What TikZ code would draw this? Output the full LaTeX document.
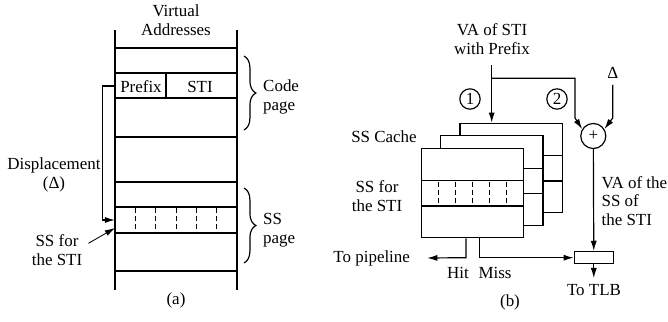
\documentclass[tikz,border=0pt]{standalone}
\usepackage{fontspec}
\setmainfont{Liberation Serif}
\usetikzlibrary{arrows.meta,decorations.pathreplacing,positioning}

\begin{document}
\begin{tikzpicture}[x=0.59pt, y=-0.59pt, line width=0.7pt, >={Latex[length=6pt,width=3.6pt]},
	lbl/.style={font=\fontsize{10}{11}\selectfont, align=center},
	cache/.style={draw, black, fill=white, minimum width=60.24pt, minimum height=52.75pt, inner sep=0pt},
	num/.style={draw, circle, minimum size=12pt, inner sep=0pt, font=\fontsize{10}{11}\selectfont},
	brc/.style={decorate, decoration={brace, amplitude=7pt}},
	cut/.style={dash pattern=on 3pt off 1.8pt}]
	\useasboundingbox (0,0) rectangle (668,322);

	% (a) address column
	\draw (115,30) -- (115,290) (237,30) -- (237,290);
	\foreach \y in {48,73,98,137,182,207,233,271}
		\draw (115,\y) -- (237,\y);
	\draw (166,73) -- (166,98);
	\foreach \x in {135.3,155.7,176.3,196.3,216.7}
		\draw[cut] (\x,208) -- (\x,233);

	\node[lbl] (va) at (176,20) {Virtual\\Addresses};
	\node[lbl] (prefix) at (141,87) {Prefix};
	\node[lbl] (sti) at (200,87) {STI};
	\node[lbl] (disp) at (54,175) {Displacement\\(Δ)};
	\node[lbl] (ssa) at (57,250) {SS for\\the STI};
	\node[lbl, anchor=west, align=left] (codepg) at (257,97) {Code\\page};
	\node[lbl, anchor=west, align=left] (sspg) at (257,230) {SS\\page};
	\node[lbl] (capa) at (176,300) {(a)};

	\coordinate (pfx) at (115,86);
	\coordinate (ssslot) at (115,220);
	\coordinate (ssrow) at (115,228);
	\draw[->] (pfx) -- ++(-12.3,0) |- (ssslot);
	\draw[->, line width=0.5pt] (ssa.12) -- (ssrow);

	\draw[brc] (244,56) -- (244,130);
	\draw[brc] (244,188) -- (244,263);

	% (b) stacked SS caches, back one first
	\foreach \k in {2,1,0} {
		\node[cache] (cache\k) at (472.75+19.15*\k,193-12.5*\k) {};
		\draw (421.7+19.15*\k,180.7-12.5*\k) -- ++(102.1,0)
		      (421.7+19.15*\k,206-12.5*\k) -- ++(102.1,0);
	}
	\foreach \k in {1,...,5}
		\draw[cut] (421.7+17.02*\k,181.5) -- ++(0,24.5);

	\node[lbl] (cachelbl) at (384,137) {SS Cache};
	\node[lbl] (ssb) at (377,196) {SS for\\the STI};
	\node[lbl] (vasti) at (492,39) {VA of STI\\with Prefix};
	\node[num] (one) at (470,99) {1};
	\node[num] (two) at (557,99) {2};
	\node[draw, circle, minimum size=14.8pt, inner sep=0pt] (sum) at (593.3,136) {+};
	\node[lbl] (delta) at (612.7,73) {Δ};
	\node[lbl, anchor=west, align=left, inner sep=0pt] (vass) at (601,201) {VA of the\\SS of\\the STI};
	\node[draw, minimum width=23pt, minimum height=7.3pt, inner sep=0pt] (tlb) at (593.8,257.7) {};
	\node[lbl] (totlb) at (594,290) {To TLB};
	\node[lbl] (pipe) at (371.7,258) {To pipeline};
	\node[lbl] (hitlbl) at (458,273) {Hit};
	\node[lbl] (misslbl) at (495,273) {Miss};
	\node[lbl] (capb) at (510,302) {(b)};

	\coordinate (vain) at (491.7,65);
	\coordinate (fork) at (491.7,78.3);
	\coordinate (dbend) at (612.7,118);
	\coordinate (hitpt) at (466,257.7);
	\coordinate (misspt) at (479.3,257.7);

	\draw[->] (vain) -- (vain |- cache2.north);
	\draw[->] (fork) -| (575,118) -- (sum.148);
	\draw[->] (delta) -- (dbend) -- (sum.32);
	\draw[->] (sum) -- (tlb);
	\draw[->] (tlb.south) -- (tlb.south |- totlb.north);
	\draw[->] (hitpt |- cache0.south) -- (hitpt) -- ([xshift=6.5pt]pipe.east);
	\draw[->] (misspt |- cache0.south) -- (misspt) -- (tlb.west);
\end{tikzpicture}
\end{document}
